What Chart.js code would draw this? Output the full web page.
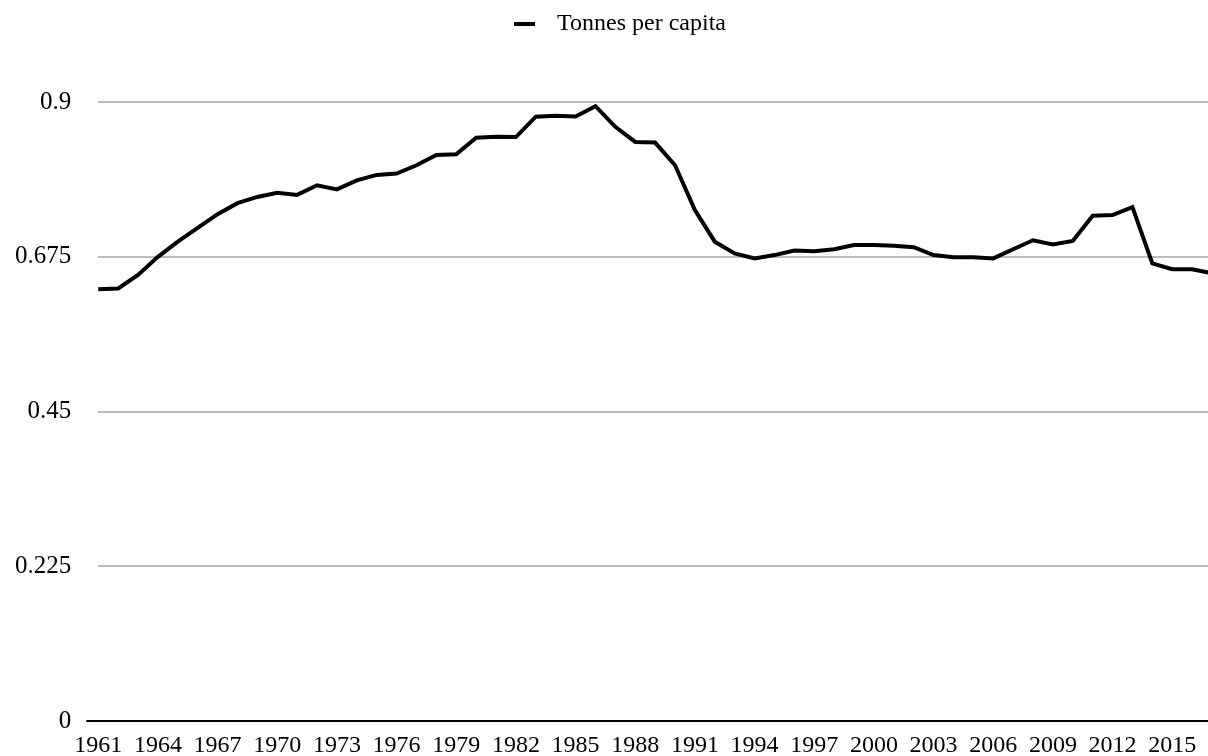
<!DOCTYPE html>
<html>
<head>
<meta charset="utf-8">
<script src="https://cdn.jsdelivr.net/npm/chart.js@4/dist/chart.umd.min.js"></script>
<style>
  html, body { margin: 0; padding: 0; background: #fff; overflow: hidden; }
  #wrap { width: 1240px; height: 770px; }
</style>
</head>
<body>
<div id="wrap"><canvas id="canvas"></canvas></div>
<script>
var years = [
    "1961", "1962", "1963", "1964", "1965", "1966", "1967", "1968", "1969", "1970",
    "1971", "1972", "1973", "1974", "1975", "1976", "1977", "1978", "1979", "1980",
    "1981", "1982", "1983", "1984", "1985", "1986", "1987", "1988", "1989", "1990",
    "1991", "1992", "1993", "1994", "1995", "1996", "1997", "1998", "1999", "2000",
    "2001", "2002", "2003", "2004", "2005", "2006", "2007", "2008", "2009", "2010",
    "2011", "2012", "2013", "2014", "2015", "2016", "2017"
];
var tonnesPerCapita = [
    0.628, 0.629, 0.6485, 0.675, 0.697, 0.717, 0.737, 0.753, 0.762, 0.768,
    0.765, 0.779, 0.773, 0.786, 0.794, 0.796, 0.808, 0.823, 0.824, 0.848,
    0.8495, 0.849, 0.8786, 0.880, 0.879, 0.894, 0.864, 0.842, 0.841, 0.808,
    0.743, 0.697, 0.680, 0.6727, 0.6775, 0.684, 0.683, 0.686, 0.692, 0.692,
    0.691, 0.689, 0.6775, 0.6742, 0.6742, 0.6727, 0.686, 0.699, 0.693, 0.698,
    0.7347, 0.7357, 0.7473, 0.6655, 0.657, 0.6568, 0.651
];
var xTickYears = [
    "1961", "1964", "1967", "1970", "1973", "1976", "1979", "1982", "1985",
    "1988", "1991", "1994", "1997", "2000", "2003", "2006", "2009", "2012", "2015"
];
var yTicks = [0, 0.225, 0.45, 0.675, 0.9];
var seriesName = "Tonnes per capita";

Chart.defaults.font.family = "'Liberation Serif', 'Times New Roman', serif";
Chart.defaults.font.size = 24;
Chart.defaults.color = "#000";

// legend marker: short bar on the left of a slightly wider box
var marker = document.createElement("canvas");
marker.width = 31;
marker.height = 4;
var mctx = marker.getContext("2d");
mctx.fillStyle = "#000";
mctx.fillRect(0, 0, 21, 4);

// push the plot down away from the legend
var legendGap = {
    id: "legendGap",
    beforeInit: function (chart) {
        var fit = chart.legend.fit;
        chart.legend.fit = function () {
            fit.bind(chart.legend)();
            this.height += 56;
        };
    }
};

window.onload = function () {
    var ctx = document.getElementById("canvas").getContext("2d");
    window.myLine = new Chart(ctx, {
        type: "line",
        data: {
            labels: years,
            datasets: [{
                label: seriesName,
                data: tonnesPerCapita,
                borderColor: "#000",
                backgroundColor: "#000",
                borderWidth: 4,
                pointRadius: 0,
                tension: 0,
                fill: false
            }]
        },
        options: {
            responsive: true,
            maintainAspectRatio: false,
            animation: false,
            layout: { padding: { top: 2, right: 0, left: 0, bottom: 0 } },
            plugins: {
                legend: {
                    position: "top",
                    labels: {
                        usePointStyle: true,
                        pointStyleWidth: 31,
                        generateLabels: function (chart) {
                            var items = Chart.defaults.plugins.legend.labels.generateLabels(chart);
                            items.forEach(function (it) {
                                it.pointStyle = marker;
                                it.lineWidth = 0;
                            });
                            return items;
                        }
                    }
                },
                tooltip: { enabled: false }
            },
            scales: {
                x: {
                    grid: { display: false, drawTicks: false },
                    border: { display: false },
                    afterFit: function (scale) {
                        scale.paddingRight = 28;
                    },
                    ticks: {
                        autoSkip: false,
                        maxRotation: 0,
                        minRotation: 0,
                        padding: 10,
                        callback: function (value) {
                            var lbl = this.getLabelForValue(value);
                            return xTickYears.indexOf(lbl) >= 0 ? lbl : "";
                        }
                    }
                },
                y: {
                    min: yTicks[0],
                    max: yTicks[yTicks.length - 1],
                    border: { display: false },
                    afterBuildTicks: function (axis) {
                        axis.ticks = yTicks.map(function (v) { return { value: v }; });
                    },
                    grid: {
                        color: function (c) { return c.tick && c.tick.value === 0 ? "#000" : "#bdbdbd"; },
                        lineWidth: 2,
                        tickColor: function (c) { return c.tick && c.tick.value === 0 ? "#000" : "rgba(0,0,0,0)"; },
                        tickLength: 12
                    },
                    ticks: {
                        padding: 15,
                        font: { size: 25 },
                        callback: function (v) { return String(+v.toFixed(3)); }
                    }
                }
            }
        },
        plugins: [legendGap]
    });
};
</script>
</body>
</html>
